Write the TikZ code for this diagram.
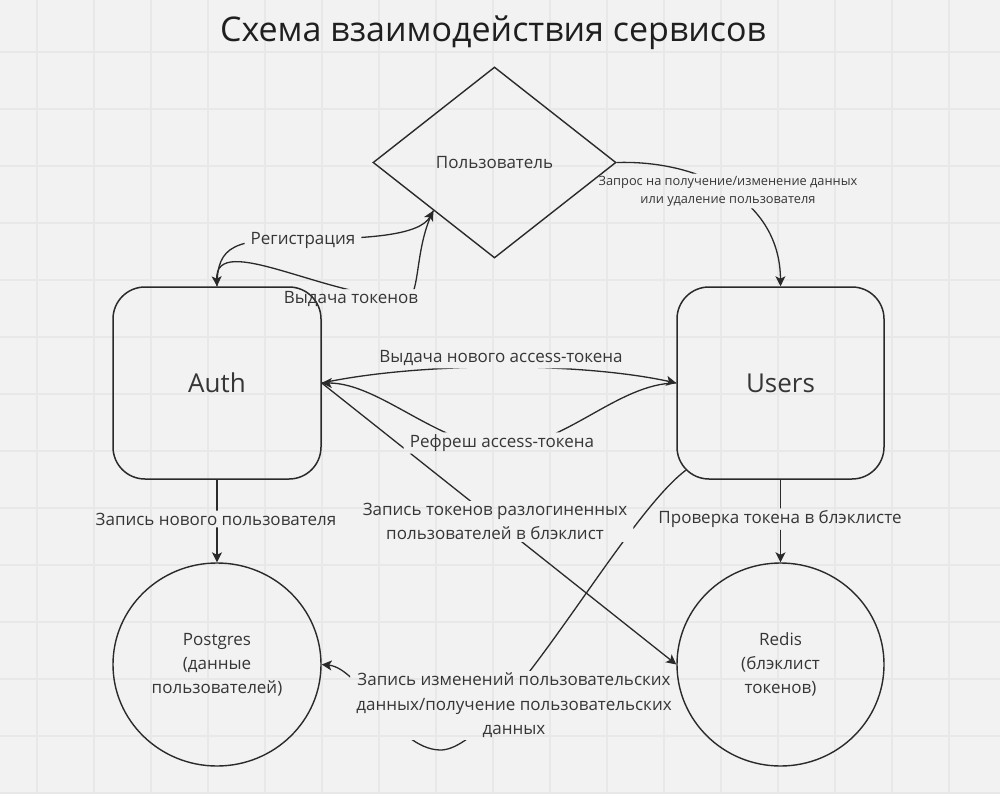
\documentclass[tikz,border=0pt]{standalone}
\usepackage{fontspec}
\setmainfont{Open Sans}
\usetikzlibrary{shapes.geometric,arrows.meta}
\definecolor{bgc}{HTML}{F2F2F2}
\definecolor{gridc}{HTML}{E8E8E8}
\definecolor{ink}{HTML}{2A2A2A}
\definecolor{txt}{HTML}{363636}
\begin{document}
\begin{tikzpicture}[x=1pt,y=-1pt,
  box/.style={draw=ink,line width=1.5pt,rounded corners=32pt,minimum width=208pt,minimum height=192pt,inner sep=0pt,text=txt,font=\fontsize{26}{30}\selectfont},
  dbc/.style={draw=ink,line width=1.4pt,ellipse,minimum width=208pt,minimum height=203pt,inner sep=0pt,align=center,text=txt,font=\fontsize{17}{24}\selectfont},
  lbl/.style={inner xsep=6pt,inner ysep=2pt,align=center,text=txt,font=\fontsize{17}{24.5}\selectfont},
  slbl/.style={lbl,font=\fontsize{12.8}{18}\selectfont},
  conn/.style={draw=ink,line width=1.3pt,-{Stealth[length=10pt,width=10pt,inset=2.5pt]}},
]
\fill[bgc] (0,0) rectangle (1000,794);
\useasboundingbox (0,0) rectangle (1000,794);
\foreach \i in {0,...,16} {\draw[gridc,line width=1.1pt] ({37+57*\i},0) -- ({37+57*\i},794);}
\foreach \j in {0,...,13} {\draw[gridc,line width=1.1pt] (0,{52+57*\j}) -- (1000,{52+57*\j});}

\node[font=\fontsize{34}{40}\selectfont,text=black!88] (title) at (493,33) {Схема взаимодействия сервисов};
\node[diamond,draw=ink,line width=1.4pt,minimum width=243pt,minimum height=191pt,aspect=1.27,inner sep=0pt,text=txt,font=\fontsize{17}{20}\selectfont] (user) at (494.5,162.5) {Пользователь};
\node[box] (auth) at (217,383) {Auth};
\node[box,minimum width=207pt] (users) at (780.5,383) {Users};
\node[dbc] (pg) at (217,664.5) {Postgres\\(данные\\пользователей)};
\node[dbc,minimum width=207pt] (redis) at (780.5,664.5) {Redis\\(блэклист\\токенов)};

\node[lbl] (lreg) at (303,240) {Регистрация};
\node[lbl] (ltok) at (351,299) {Выдача токенов};
\node[slbl] (lreq) at (728,191) {Запрос на получение/изменение данных\\или удаление пользователя};
\node[lbl] (lnew) at (501,358.5) {Выдача нового access-токена};
\node[lbl] (lref) at (502,443) {Рефреш access-токена};
\node[lbl] (lpg) at (216,519) {Запись нового пользователя};
\node[lbl] (lbk) at (495,521.5) {Запись токенов разлогиненных\\пользователей в блэклист};
\node[lbl] (lchk) at (780,519) {Проверка токена в блэклисте};
\node[lbl] (lupd) at (514,705.5) {Запись изменений пользовательских\\данных/получение пользовательских\\данных};

\begin{scope}
\clip (-10,-10) -- (1010,-10) -- (1010,804) -- (-10,804) -- cycle
  foreach \n in {lreg,ltok,lreq,lnew,lref,lpg,lbk,lchk,lupd} {(\n.north west) -- (\n.south west) -- (\n.south east) -- (\n.north east) -- cycle};
\draw[conn] (auth.north) .. controls (217,245) and (235,239) .. (303,239) .. controls (370,239) and (420,235) .. (user.south west);
\draw[conn] (user.south west) .. controls (416,245) and (420,285) .. (410,298) .. controls (330,300) and (215,230) .. (auth.north);
\draw[conn] (user.east) .. controls (700,160) and (780,200) .. (users.north);
\draw[conn] (auth.east) .. controls (420,362) and (580,362) .. (users.west);
\draw[conn] (users.west) .. controls (618,383) and (564,447) .. (502,447) .. controls (440,447) and (380,383) .. (auth.east);
\draw[conn] (auth.south) -- (pg.north);
\draw[conn] (users.south) -- (redis.north);
\draw[conn] (auth.east) -- (redis.west);
\draw[conn] ([shift={(9.4,-9.4)}]users.south west) .. controls (620,520) and (500,751) .. (440,750) .. controls (395,749) and (360,668) .. (pg.east);
\end{scope}
\end{tikzpicture}
\end{document}
